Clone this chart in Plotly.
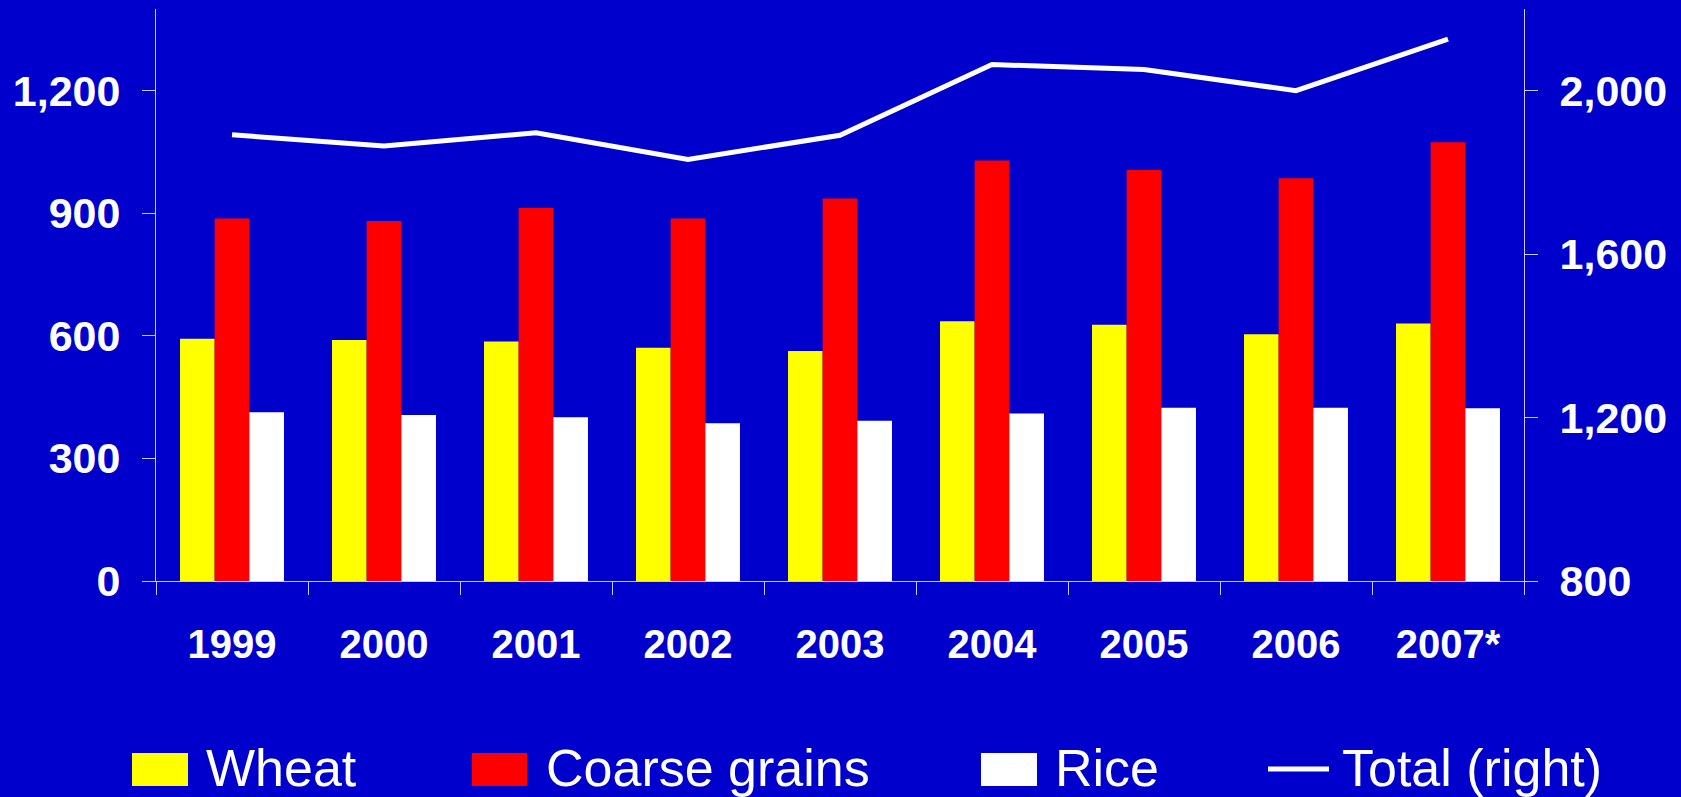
import plotly.graph_objects as go

years = ["1999", "2000", "2001", "2002", "2003", "2004", "2005", "2006", "2007*"]
wheat = [593, 590, 586, 571, 563, 636, 627, 604, 630]
coarse_grains = [887, 881, 913, 887, 936, 1029, 1006, 986, 1074]
rice = [413, 406, 401, 386, 392, 410, 424, 424, 423]
total = [1892, 1865, 1897, 1832, 1891, 2064, 2052, 2000, 2126]

series_names = ["Wheat", "Coarse grains", "Rice", "Total (right)"]
bar_colors = ["#FFFF00", "#FF0000", "#FFFFFF"]

BG = "#0000CC"
AXIS = "#C8C8F0"
W, H = 1681, 797
L, R, T, B = 156, 157, 9, 216
PW, PH = W - L - R, H - T - B

fig = go.Figure()
for name, vals, col in zip(series_names[:3], [wheat, coarse_grains, rice], bar_colors):
    fig.add_trace(go.Bar(x=years, y=vals, name=name, marker=dict(color=col, line=dict(width=0)),
                         showlegend=False))
fig.add_trace(go.Scatter(x=years, y=total, name=series_names[3], mode="lines", yaxis="y2",
                         line=dict(color="#FFFFFF", width=5), showlegend=False))

x_font = dict(family="Liberation Sans, Arial, sans-serif", size=40, color="#FFFFFF", weight="bold")
y_font = dict(family="Liberation Sans, Arial, sans-serif", size=43, color="#FFFFFF", weight="bold")

fig.update_layout(
    width=W, height=H,
    margin=dict(l=L, r=R, t=T, b=B, pad=0),
    paper_bgcolor=BG, plot_bgcolor=BG,
    barmode="group", bargap=0.316, bargroupgap=0,
    xaxis=dict(type="category", showgrid=False, showline=True, linecolor=AXIS, linewidth=1,
               ticks="outside", tickson="boundaries", ticklen=13, tickcolor=AXIS, tickwidth=1,
               tickfont=x_font, ticklabelstandoff=28, zeroline=False),
    yaxis=dict(range=[0, 1400], tickvals=[0, 300, 600, 900, 1200], tickformat=",",
               showgrid=False, showline=True, linecolor=AXIS, linewidth=1, ticks="outside",
               ticklen=13, tickcolor=AXIS, tickfont=y_font, ticklabelstandoff=13, zeroline=False),
    yaxis2=dict(range=[800, 2200], tickvals=[800, 1200, 1600, 2000], tickformat=",",
                overlaying="y", side="right", showgrid=False, showline=True, linecolor=AXIS,
                linewidth=1, ticks="outside", ticklen=13, tickcolor=AXIS, tickfont=y_font,
                ticklabelstandoff=13, zeroline=False),
    showlegend=False,
)

def px(x):
    return (x - L) / PW

def py(y):
    return (T + PH - y) / PH

leg_font = dict(family="Liberation Sans, Arial, sans-serif", size=52, color="#FFFFFF")
legend_items = [
    (series_names[0], bar_colors[0], 132, 188, 204),
    (series_names[1], bar_colors[1], 472, 527, 544),
    (series_names[2], bar_colors[2], 981, 1037, 1053),
]
for name, col, x0, x1, tx in legend_items:
    fig.add_shape(type="rect", xref="paper", yref="paper", x0=px(x0), x1=px(x1),
                  y0=py(786), y1=py(753), fillcolor=col, line=dict(width=0))
    fig.add_annotation(xref="paper", yref="paper", x=px(tx), y=py(768), text=name,
                       showarrow=False, xanchor="left", yanchor="middle", font=leg_font)
fig.add_shape(type="line", xref="paper", yref="paper", x0=px(1268), x1=px(1329),
              y0=py(769), y1=py(769), line=dict(color="#FFFFFF", width=5))
fig.add_annotation(xref="paper", yref="paper", x=px(1340), y=py(768), text=series_names[3],
                   showarrow=False, xanchor="left", yanchor="middle", font=leg_font)

fig.write_html("out.html", config={"displayModeBar": False},
               post_script="document.body.style.margin='0';document.body.style.overflow='hidden';")
